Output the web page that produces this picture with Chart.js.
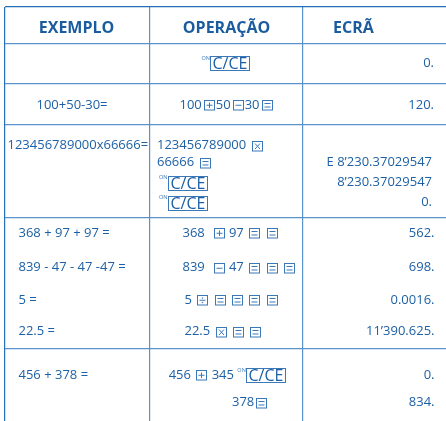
<!DOCTYPE html>
<html>
<head>
<meta charset="utf-8">
<script src="https://cdn.jsdelivr.net/npm/chart.js@4/dist/chart.umd.min.js"></script>
<style>
html,body{margin:0;padding:0;background:#fff;}
#c{display:block;}
</style>
</head>
<body>
<canvas id="c" width="446" height="421"></canvas>
<script>
// ---- content ----
const headers = ['EXEMPLO', 'OPERAÇÃO', 'ECRÃ'];
const exemplos = [
  [],
  ['100+50-30='],
  ['123456789000x66666='],
  ['368 + 97 + 97 =', '839 - 47 - 47 -47 =', '5 =', '22.5 ='],
  ['456 + 378 =']
];
const operacoes = [
  ['{ON}'],
  ['100{+}50{-}30{=}'],
  ['123456789000 {x}', '66666 {=}', '{ON}', '{ON}'],
  ['368  {+} 97 {=} {=}', '839  {-} 47 {=} {=} {=}', '5 {÷} {=} {=} {=} {=}', '22.5 {x} {=} {=}'],
  ['456 {+} 345 {ON}', '378{=}']
];
const ecras = [
  ['0.'],
  ['120.'],
  ['', 'E 8’230.37029547', '8’230.37029547', '0.'],
  ['562.', '698.', '0.0016.', '11’390.625.'],
  ['0.', '834.']
];

// ---- layout (table geometry in page units) ----
const colEdges = [5, 150, 303];
const rowEdges = [7, 44, 84, 124.5, 218, 349];
const headerY = 28;
const lineY = [[63], [105], [145.5, 162.5, 182.5, 202.5], [233, 267.5, 300, 331.5], [375, 402.5]];
const headerPos = [{x: 76.5, a: 'center'}, {x: 226.5, a: 'center'}, {x: 333, a: 'left'}];
const exPos = [[], [{x: 72, a: 'center'}], [{x: 7.5, a: 'left'}],
  [{x: 18.5, a: 'left'}, {x: 18.5, a: 'left'}, {x: 18.5, a: 'left'}, {x: 18.5, a: 'left'}],
  [{x: 18.5, a: 'left'}]];
const opPos = [[{x: 226, a: 'center'}], [{x: 226.5, a: 'center'}],
  [{x: 157, a: 'left'}, {x: 157, a: 'left'}, {x: 159, a: 'left'}, {x: 159, a: 'left'}],
  [{x: 182.5, a: 'left'}, {x: 182.5, a: 'left'}, {x: 184.5, a: 'left'}, {x: 184.5, a: 'left'}],
  [{x: 227.5, a: 'center'}, {x: 232, a: 'left'}]];
const ecrX = [434, 434, 432, 434.5, 434.5];

const TEXT = '#1d60a5';
const HEAD = '#1a5c9f';
const EDGE = '#2470b8';
const LINE = '#5a93cc';
const KEY = '#3b78b8';
const BODY_FONT = '13px "Open Sans"';
const HEAD_FONT = 'bold 16px "Open Sans"';
const KW = 10;   // key box size
const KM = 2;    // key side margin

function tokens(s) {
  const out = [];
  const re = /\{([^}]+)\}/g;
  let last = 0, m;
  while ((m = re.exec(s))) {
    if (m.index > last) out.push({t: 'txt', v: s.slice(last, m.index)});
    out.push({t: 'key', v: m[1]});
    last = re.lastIndex;
  }
  if (last < s.length) out.push({t: 'txt', v: s.slice(last)});
  return out;
}
function tokWidth(ctx, tk) {
  if (tk.t === 'txt') { ctx.font = BODY_FONT; return ctx.measureText(tk.v).width; }
  if (tk.v === 'ON') return 9 + 40;
  return KM + KW + KM;
}
function drawKey(ctx, k, x, y) {
  ctx.save();
  ctx.strokeStyle = KEY; ctx.fillStyle = KEY; ctx.lineWidth = 1;
  if (k === 'ON') {
    ctx.font = '5.5px "Open Sans"';
    ctx.textAlign = 'left'; ctx.textBaseline = 'middle';
    ctx.fillText('ON', x, y - 5);
    const bx = Math.round(x + 9) + 0.5, by = Math.round(y - 7) + 0.5;
    ctx.strokeRect(bx, by, 39, 14);
    ctx.font = '16px "Open Sans"';
    ctx.textAlign = 'center';
    ctx.fillStyle = TEXT;
    ctx.fillText('C/CE', bx + 19.5, by + 7.5);
    ctx.restore();
    return;
  }
  const w = KW, h = KW - 0.5;
  const bx = Math.round(x + KM) + 0.5, by = Math.round(y - 5) + 0.5;
  ctx.strokeRect(bx, by, w, h);
  ctx.beginPath();
  const cx = bx + w / 2, cy = by + h / 2;
  if (k === '+') { ctx.moveTo(bx + 2, cy); ctx.lineTo(bx + w - 2, cy); ctx.moveTo(cx, by + 2); ctx.lineTo(cx, by + h - 2); }
  if (k === '-') { ctx.moveTo(bx + 2, cy); ctx.lineTo(bx + w - 2, cy); }
  if (k === '=') { ctx.moveTo(bx + 2, by + 3); ctx.lineTo(bx + w - 2, by + 3); ctx.moveTo(bx + 2, by + 6.5); ctx.lineTo(bx + w - 2, by + 6.5); }
  if (k === 'x') { ctx.moveTo(bx + 2.5, by + 2); ctx.lineTo(bx + w - 2.5, by + h - 2); ctx.moveTo(bx + w - 2.5, by + 2); ctx.lineTo(bx + 2.5, by + h - 2); }
  if (k === '÷') { ctx.moveTo(bx + 2, cy); ctx.lineTo(bx + w - 2, cy); ctx.stroke(); ctx.beginPath();
    ctx.arc(cx, cy - 2.3, 0.7, 0, Math.PI * 2); ctx.arc(cx, cy + 2.3, 0.7, 0, Math.PI * 2); ctx.fill(); ctx.beginPath(); }
  ctx.stroke();
  ctx.restore();
}
function drawRich(ctx, s, x, y, align) {
  const tks = tokens(s);
  let total = 0;
  tks.forEach(tk => total += tokWidth(ctx, tk));
  let cx = align === 'center' ? x - total / 2 : (align === 'right' ? x - total : x);
  tks.forEach(tk => {
    const w = tokWidth(ctx, tk);
    if (tk.t === 'txt') {
      ctx.font = BODY_FONT; ctx.fillStyle = TEXT;
      ctx.textAlign = 'left'; ctx.textBaseline = 'middle';
      ctx.fillText(tk.v, cx, y);
    } else {
      drawKey(ctx, tk.v, cx, y);
    }
    cx += w;
  });
}

const tablePlugin = {
  id: 'tableText',
  afterDraw(chart) {
    const ctx = chart.ctx, xs = chart.scales.x, ys = chart.scales.y;
    ctx.save();
    ctx.textBaseline = 'middle';
    ctx.font = HEAD_FONT; ctx.fillStyle = HEAD;
    headers.forEach((h, i) => {
      ctx.textAlign = headerPos[i].a;
      ctx.fillText(h, xs.getPixelForValue(headerPos[i].x), ys.getPixelForValue(headerY));
    });
    exemplos.forEach((lines, r) => lines.forEach((s, j) => {
      const p = exPos[r][j];
      drawRich(ctx, s, xs.getPixelForValue(p.x), ys.getPixelForValue(lineY[r][j]), p.a);
    }));
    operacoes.forEach((lines, r) => lines.forEach((s, j) => {
      const p = opPos[r][j];
      drawRich(ctx, s, xs.getPixelForValue(p.x), ys.getPixelForValue(lineY[r][j]), p.a);
    }));
    ecras.forEach((lines, r) => lines.forEach((s, j) => {
      if (!s) return;
      drawRich(ctx, s, xs.getPixelForValue(ecrX[r]), ys.getPixelForValue(lineY[r][j]), 'right');
    }));
    ctx.restore();
  }
};

new Chart(document.getElementById('c'), {
  type: 'scatter',
  data: {datasets: [{data: [], showLine: false}]},
  options: {
    responsive: false,
    animation: false,
    devicePixelRatio: 1,
    layout: {padding: {left: 5, top: 7, right: 0, bottom: 0}},
    plugins: {legend: {display: false}, tooltip: {enabled: false}},
    scales: {
      x: {
        type: 'linear', min: colEdges[0], max: 446, position: 'bottom',
        ticks: {display: false}, border: {display: false},
        grid: {color: c => c.index === 0 ? EDGE : LINE, lineWidth: 1.2, drawTicks: false},
        afterBuildTicks(s) { s.ticks = colEdges.map(v => ({value: v})); },
        afterFit(s) { s.height = 0; }
      },
      y: {
        type: 'linear', min: rowEdges[0], max: 421, reverse: true,
        ticks: {display: false}, border: {display: false},
        grid: {color: c => c.index === 0 ? EDGE : LINE, lineWidth: 1.2, drawTicks: false},
        afterBuildTicks(s) { s.ticks = rowEdges.map(v => ({value: v})); },
        afterFit(s) { s.width = 0; }
      }
    }
  },
  plugins: [tablePlugin]
});
</script>
</body>
</html>
